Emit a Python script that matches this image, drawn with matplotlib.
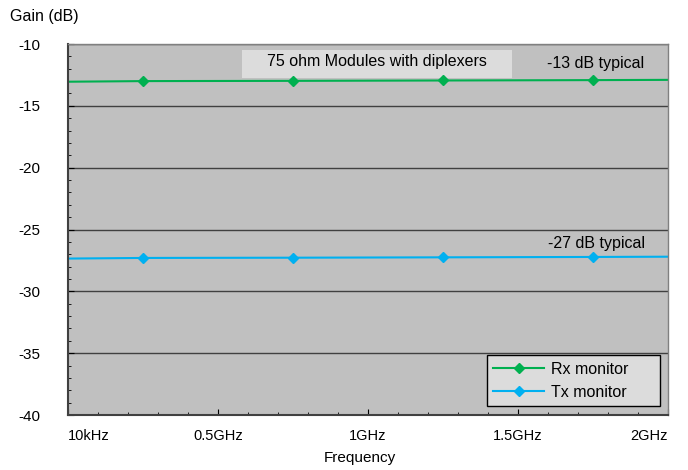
import numpy as np
import matplotlib.pyplot as plt
from matplotlib.ticker import MultipleLocator
from matplotlib.patches import Rectangle

plt.rcParams['font.family'] = ['Liberation Sans', 'DejaVu Sans']
plt.rcParams['axes.unicode_minus'] = False

freq = [0.0, 0.25, 0.75, 1.25, 1.75, 2.0]
rx = [-13.05, -13.0, -12.98, -12.95, -12.92, -12.9]
tx = [-27.35, -27.3, -27.28, -27.25, -27.22, -27.2]
xtick_pos = [0, 0.5, 1.0, 1.5, 2.0]
xtick_labels = ['10kHz', '0.5GHz', '1GHz', '1.5GHz', '2GHz']

fig = plt.figure(figsize=(6.88, 4.70), dpi=100)
ax = fig.add_axes([68/688, 55/470, 600/688, 371/470])
ax.set_facecolor('#c0c0c0')

ax.plot(freq, rx, color='#00b050', lw=1.5, marker='D', ms=5, markevery=[1, 2, 3, 4], label='Rx monitor')
ax.plot(freq, tx, color='#00b0f0', lw=1.5, marker='D', ms=5, markevery=[1, 2, 3, 4], label='Tx monitor')

ax.set_xlim(0, 2)
ax.set_ylim(-40, -10)
ax.set_xticks(xtick_pos)
ax.set_xticklabels(xtick_labels)
ax.xaxis.set_minor_locator(MultipleLocator(0.1))
ax.yaxis.set_major_locator(MultipleLocator(5))
ax.yaxis.set_minor_locator(MultipleLocator(1))
ax.tick_params(axis='x', which='major', labelsize=10.5, length=4, direction='in', pad=10)
ax.tick_params(axis='y', which='major', labelsize=11, length=4, direction='in', pad=20)
ax.tick_params(axis='both', which='minor', length=2, direction='in')
xl = ax.get_xticklabels()
xl[0].set_ha('left')
xl[-1].set_ha('right')
ax.yaxis.grid(True, which='major', color='#404040', lw=1)
ax.set_axisbelow(True)

for s in ['left', 'bottom']:
    ax.spines[s].set_color('#404040')
    ax.spines[s].set_linewidth(1.5)
for s in ['top', 'right']:
    ax.spines[s].set_color('#808080')
    ax.spines[s].set_linewidth(1)

ax.add_patch(Rectangle((0.58, -12.75), 0.9, 2.26, fc='#dcdcdc', ec='none', zorder=1.5))
ax.text(1.03, -11.45, '75 ohm Modules with diplexers', ha='center', va='center', fontsize=11.5)
ax.text(1.76, -11.6, '-13 dB typical', ha='center', va='center', fontsize=11.5)
ax.text(1.76, -26.1, '-27 dB typical', ha='center', va='center', fontsize=11.5)

leg = ax.legend(loc='lower left', bbox_to_anchor=(0.698, 0.024, 0.288, 0.14), mode='expand',
                fontsize=11.5, frameon=True, fancybox=False, facecolor='#dcdcdc', edgecolor='black',
                framealpha=1, borderpad=0.4, handlelength=3.2, handletextpad=0.4, borderaxespad=0)
leg.get_frame().set_linewidth(1)

fig.text(10/688, 1 - 16/470, 'Gain (dB)', ha='left', va='center', fontsize=11.5)
fig.text(360/688, 1 - 458/470, 'Frequency', ha='center', va='center', fontsize=11)

fig.savefig('out.png', dpi=100)
